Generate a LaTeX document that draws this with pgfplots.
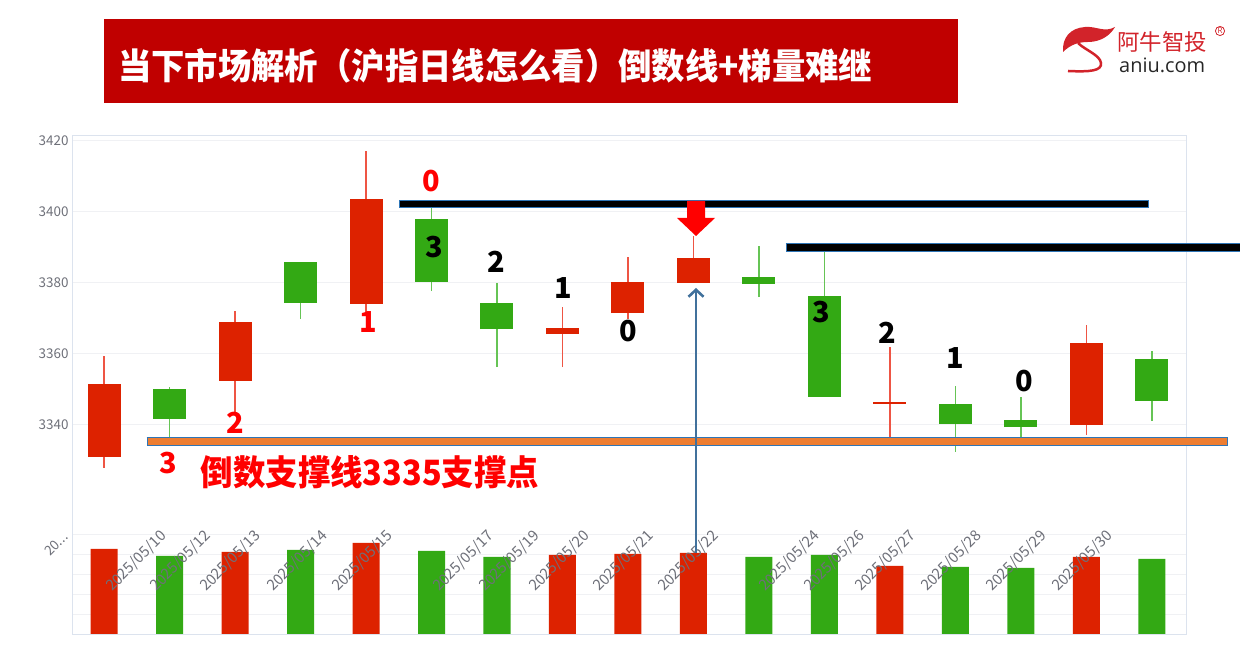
\documentclass[border=0pt]{standalone}
\usepackage{fontspec}
\setmainfont{Noto Sans CJK SC}
\newfontfamily\latin{Open Sans}
\usepackage{graphicx}
\usepackage{pgfplots}
\usepackage{pgfplotstable}
\pgfplotsset{compat=1.18}
\usetikzlibrary{arrows.meta}
\definecolor{cred}{HTML}{DD2200}
\definecolor{cgreen}{HTML}{33A914}
\definecolor{wred}{HTML}{EE5544}
\definecolor{wgreen}{HTML}{66C455}
\definecolor{tickgray}{HTML}{6E7079}
\definecolor{framec}{HTML}{DCE3EE}
\definecolor{gridc}{HTML}{F0F1F4}
\definecolor{titlered}{HTML}{C00000}
\definecolor{orangeline}{HTML}{ED7D31}
\definecolor{outlineblue}{HTML}{2E75B6}
\definecolor{arrowblue}{HTML}{41719C}
\definecolor{logored}{HTML}{D2232A}
\definecolor{annred}{HTML}{FF0000}

% OHLC, red (up) candles
\pgfplotstableread{
x o c h l
0 3331.0 3351.5 3359.5 3328.0
2 3352.4 3369.0 3372.1 3343.7
4 3374.1 3403.7 3417.2 3371.8
7 3365.6 3367.3 3373.2 3356.3
8 3371.5 3380.3 3387.3 3369.9
9 3380.0 3387.0 3393.2 3380.0
12 3346.0 3346.6 3362.0 3336.3
15 3340.0 3363.1 3368.2 3337.2
}\redc
% OHLC, green (down) candles
\pgfplotstableread{
x o c h l
1 3350.1 3341.7 3350.7 3336.3
3 3385.9 3374.4 3386.0 3369.9
5 3398.0 3380.3 3401.1 3377.7
6 3374.4 3367.0 3380.0 3356.3
10 3381.7 3379.7 3390.4 3376.0
11 3376.3 3347.9 3389.0 3347.9
13 3345.9 3340.3 3351.0 3332.4
14 3341.4 3339.4 3347.9 3336.3
16 3358.6 3346.8 3360.8 3341.1
}\greenc
\pgfplotstableread{
x v
0 86
2 83
4 92
7 80
8 81
9 82
12 69
15 78
}\redv
\pgfplotstableread{
x v
1 79
3 85
5 84
6 78
10 78
11 80
13 68
14 67
16 76
}\greenv

\pgfplotsset{
  every axis/.append style={
    scale only axis, width=1114bp,
    xmin=-0.489, xmax=16.52, xtick=\empty,
    axis line style={draw=none}, major tick length=0pt,
    ymajorgrids, grid style={draw=gridc, line width=1bp},
    ticklabel style={font=\fontsize{13.5}{14}\selectfont, text=tickgray},
    /pgf/number format/1000 sep={},
    /pgf/number format/assume math mode=true,
  },
  candle/.style n args={2}{draw=none, mark=none,
    error bars/.cd, y dir=plus, y explicit, error mark=none,
    error bar style={draw=#1, line width=#2}},
}
\newcommand\dig{\bfseries\fontsize{29}{29}\selectfont}
\newcommand\dl{\fontsize{15}{15}\selectfont}

\begin{document}
\begin{tikzpicture}[x=1bp,y=1bp]
\useasboundingbox (0,0) rectangle (1240,662);

% candle panel
\begin{axis}[at={(72bp,162bp)}, anchor=south west, height=365bp,
  ymin=3318.87, ymax=3421.69, ytick={3340,3360,3380,3400,3420}]
\addplot[candle={wred}{1.3bp}]
  table[x=x, y=l, y error plus expr=\thisrow{h}-\thisrow{l}] {\redc};
\addplot[candle={wgreen}{1.3bp}]
  table[x=x, y=l, y error plus expr=\thisrow{h}-\thisrow{l}] {\greenc};
\addplot[candle={cred}{33bp}]
  table[x=x, y=o, y error plus expr=\thisrow{c}-\thisrow{o}] {\redc};
\addplot[candle={cgreen}{33bp}]
  table[x=x, y=c, y error plus expr=\thisrow{o}-\thisrow{c}] {\greenc};
\end{axis}

% volume panel
\begin{axis}[at={(72bp,27bp)}, anchor=south west, height=135bp,
  ymin=0, ymax=135, ytick={20,40,60,80,100}, yticklabels={}]
\addplot[ybar, bar width=27bp, bar shift=0pt, fill=cred, draw=none] table[x=x, y=v] {\redv};
\addplot[ybar, bar width=27bp, bar shift=0pt, fill=cgreen, draw=none] table[x=x, y=v] {\greenv};
\end{axis}

\begin{scope}[shift={(0,662)}, y=-1bp]
% frame
\draw[framec, line width=1bp] (72,135.5) rectangle (1186,635);
% volume axis label
\node[rotate=45, anchor=north east, inner sep=0, text=tickgray, font=\fontsize{13.5}{14}\selectfont] at (62,531) {20...};
% date labels
\foreach \px/\t in {163/10,207/12,257/13,324/14,389/15,490/17,536/19,586/20,650/21,715/22,816/24,861/26,912/27,978/28,1043/29,1109/30}
  \node[rotate=45, anchor=north east, inner sep=0, text=tickgray, font=\dl] at (\px-4,528) {2025/05/\t};

% title
\fill[titlered] (104,19) rectangle (958,103);
\node[anchor=west, inner sep=0, text=white] at (118,66)
  {\scalebox{0.93}[1]{\bfseries\fontsize{36}{36}\selectfont 当下市场解析（沪指日线怎么看）倒数线+梯量难继}};

% logo
\fill[logored] (1063,52) .. controls (1062,38) and (1070,28) .. (1085,27)
  .. controls (1097,26) and (1104,33) .. (1115,27)
  .. controls (1110,36) and (1100,42) .. (1088,42)
  .. controls (1078,42) and (1070,45) .. (1063,52) -- cycle;
\draw[logored, line width=2.5bp] (1078,43) .. controls (1085,50) and (1100,55) .. (1101,63)
  .. controls (1102,71) and (1090,72) .. (1068,71);
\node[anchor=west, inner sep=0, text=logored, font=\fontsize{22.5}{22.5}\selectfont] at (1117,42) {阿牛智投};
\node[circle, draw=logored, line width=0.8bp, inner sep=0.6bp, text=logored, font=\latin\fontsize{8}{8}\selectfont] at (1220,31) {R};
\node[anchor=west, inner sep=0, text=black!85, font=\latin\fontsize{20}{20}\selectfont] at (1119,65) {aniu.com};

% resistance / support lines
\draw[outlineblue, line width=8bp] (399,204.5) -- (1149,204.5);
\draw[black, line width=6bp] (400,204.5) -- (1148,204.5);
\draw[outlineblue, line width=9bp] (785.5,247.5) -- (1241,247.5);
\draw[black, line width=7bp] (786.5,247.5) -- (1241,247.5);
\draw[outlineblue, line width=9bp] (146.5,442) -- (1227.5,442);
\draw[orangeline, line width=7bp] (147.5,442) -- (1226.5,442);

% arrows
\fill[annred] (687,201) -- (705,201) -- (705,218) -- (715,218) -- (696,236) -- (677,218) -- (687,218) -- cycle;
\draw[arrowblue, line width=2.6bp, -{Straight Barb[length=7bp, width=15bp, line width=2.6bp]}] (696,553) -- (696,288);

% counting labels
\node[text=annred, font=\dig] at (431,181) {0};
\node[text=black, font=\dig] at (434,247) {3};
\node[text=annred, font=\dig] at (368,322) {1};
\node[text=annred, font=\dig] at (235,423) {2};
\node[text=annred, font=\dig] at (168,463) {3};
\node[text=black, font=\dig] at (496,262) {2};
\node[text=black, font=\dig] at (563,288) {1};
\node[text=black, font=\dig] at (628,331) {0};
\node[text=black, font=\dig] at (821,312) {3};
\node[text=black, font=\dig] at (887,333) {2};
\node[text=black, font=\dig] at (955,358) {1};
\node[text=black, font=\dig] at (1024,381) {0};
\node[inner sep=0, text=annred] at (370,472)
  {\scalebox{0.93}[1]{\bfseries\fontsize{35}{35}\selectfont 倒数支撑线3335支撑点}};
\end{scope}
\end{tikzpicture}
\end{document}
